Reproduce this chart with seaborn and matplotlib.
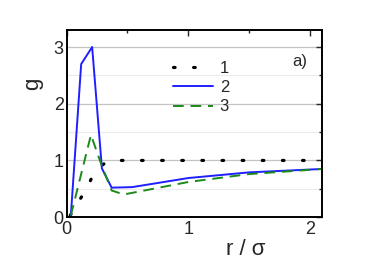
import numpy as np
import pandas as pd
import matplotlib
matplotlib.use("Agg")
import matplotlib.pyplot as plt
from matplotlib.ticker import MultipleLocator
import seaborn as sns

# curve 1 (black dotted)
r1 = [0.03, 0.10, 0.165, 0.21, 0.30, 0.35, 0.5, 1.0, 1.5, 2.1]
g1 = [0.03, 0.28, 0.50, 0.71, 0.93, 1.0, 1.0, 1.0, 1.0, 1.0]
# curve 2 (blue solid)
r2 = [0.035, 0.12, 0.21, 0.29, 0.37, 0.54, 1.0, 1.5, 2.1]
g2 = [0.03, 2.70, 3.00, 0.86, 0.52, 0.53, 0.69, 0.79, 0.85]
# curve 3 (green dashed)
r3 = [0.035, 0.20, 0.29, 0.37, 0.47, 1.0, 1.5, 2.1]
g3 = [0.03, 1.45, 0.90, 0.47, 0.40, 0.62, 0.76, 0.85]

sns.set_style("white")
plt.rcParams['font.family'] = ['Liberation Sans', 'DejaVu Sans']

fig, ax = plt.subplots(figsize=(3.74, 2.61), dpi=100)
fig.subplots_adjust(left=0.178, right=0.862, top=0.885, bottom=0.168)

sns.lineplot(x=r1, y=g1, ax=ax, color="black", lw=2.3, linestyle=(0, (0.5, 5.8)),
             dash_capstyle="round", label="1", sort=False)
sns.lineplot(x=r2, y=g2, ax=ax, color="#1f1fff", lw=1.4, label="2", sort=False)
sns.lineplot(x=r3, y=g3, ax=ax, color="#1a8a1a", lw=1.4, linestyle=(0, (5.5, 3.5)),
             label="3", sort=False)

ax.set_xlim(0, 2.1)
ax.set_ylim(0, 3.3)
ax.xaxis.set_major_locator(MultipleLocator(1))
ax.xaxis.set_minor_locator(MultipleLocator(0.5))
ax.yaxis.set_major_locator(MultipleLocator(1))
ax.yaxis.set_minor_locator(MultipleLocator(0.5))
ax.tick_params(which="both", direction="in", top=True, right=True, labelsize=13)
ax.tick_params(axis="y", pad=2)
ax.tick_params(axis="x", pad=3)
ax.tick_params(which="major", length=4, width=1)
ax.tick_params(which="minor", length=2.5, width=1)
ax.grid(which="major", axis="y", color="#c4c4c4", lw=0.9)
ax.grid(which="minor", axis="y", color="#ececec", lw=0.8)
ax.set_axisbelow(True)
for s in ax.spines.values():
    s.set_color("black")
    s.set_linewidth(1.4)

ax.set_xlabel("r / σ", fontsize=16)
ax.xaxis.set_label_coords(0.70, -0.115)
ax.set_ylabel("g", fontsize=16)
ax.yaxis.set_label_coords(-0.09, 0.71)

ax.legend(loc="upper left", bbox_to_anchor=(0.39, 0.87), frameon=False,
          fontsize=12, handlelength=2.4, handletextpad=0.4, labelspacing=0.25,
          borderaxespad=0)
ax.text(0.91, 0.834, "a)", transform=ax.transAxes, fontsize=12,
        ha="center", va="center")

fig.savefig("out.png", dpi=100)
